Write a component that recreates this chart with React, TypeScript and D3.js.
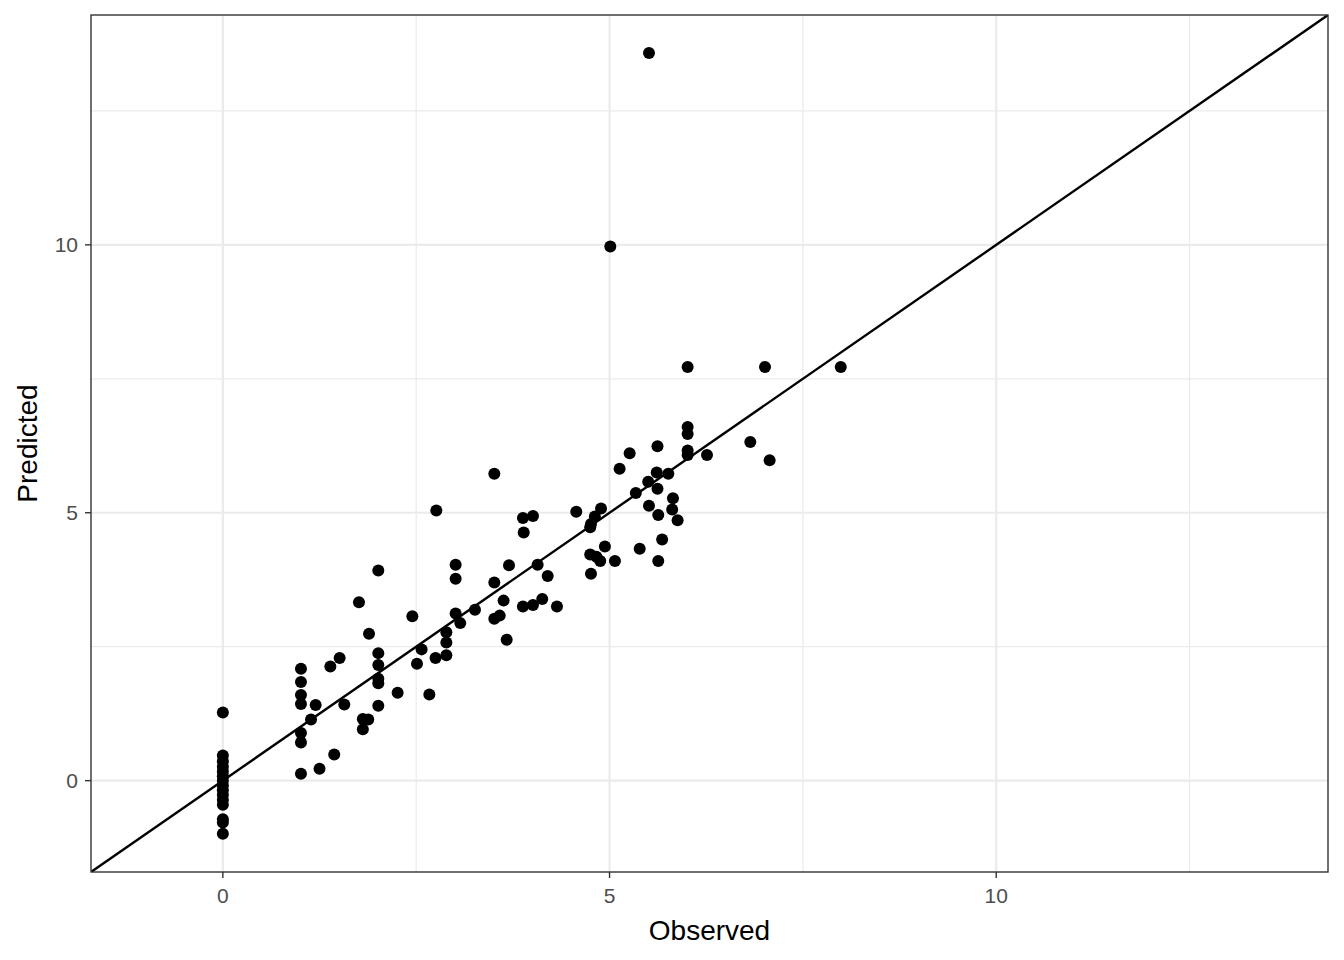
import React from "react";
import * as d3 from "d3";

const observed: number[] = [
  5.51, 5.01, 6.01, 7.01, 7.99, 6.01, 6.01, 6.82, 5.62, 5.26,
  6.01, 6.01, 6.26, 7.07, 5.13, 5.61, 5.76, 5.50, 5.62, 5.34,
  5.82, 5.51, 5.81, 4.57, 4.89, 4.81, 4.76, 4.75, 5.63, 5.88,
  4.94, 5.39, 5.68, 4.75, 4.83, 4.88, 5.07, 5.63, 4.76, 3.51,
  2.76, 3.88, 4.01, 3.89, 3.01, 3.01, 3.70, 4.07, 4.20, 3.51,
  3.63, 3.88, 4.01, 4.13, 4.32, 3.58, 3.51, 3.67, 3.26, 3.01,
  3.07, 2.89, 2.89, 2.89, 2.75, 2.57, 2.51, 2.67, 2.45, 2.26,
  2.01, 1.76, 1.89, 2.01, 2.01, 2.01, 2.01, 2.01, 1.81, 1.88,
  1.81, 1.51, 1.39, 1.57, 1.44, 1.25, 1.01, 1.01, 1.01, 1.01,
  1.20, 1.14, 1.01, 1.01, 1.01, 0, 0, 0, 0, 0,
  0, 0, 0, 0, 0, 0, 0, 0, 0, 0,
];

const predicted: number[] = [
  13.58, 9.97, 7.72, 7.72, 7.72, 6.60, 6.47, 6.32, 6.24, 6.11,
  6.16, 6.08, 6.08, 5.98, 5.82, 5.75, 5.73, 5.58, 5.45, 5.37,
  5.27, 5.13, 5.06, 5.02, 5.08, 4.93, 4.79, 4.73, 4.96, 4.86,
  4.37, 4.33, 4.50, 4.22, 4.18, 4.10, 4.10, 4.10, 3.86, 5.73,
  5.04, 4.90, 4.94, 4.63, 4.03, 3.77, 4.02, 4.03, 3.82, 3.70,
  3.36, 3.25, 3.28, 3.39, 3.25, 3.08, 3.02, 2.63, 3.19, 3.12,
  2.94, 2.77, 2.58, 2.34, 2.29, 2.45, 2.18, 1.61, 3.07, 1.64,
  3.92, 3.33, 2.74, 2.38, 2.16, 1.90, 1.82, 1.40, 1.15, 1.14,
  0.96, 2.29, 2.13, 1.42, 0.49, 0.22, 2.09, 1.84, 1.60, 1.43,
  1.41, 1.14, 0.89, 0.71, 0.13, 1.27, 0.47, 0.36, 0.26, 0.17,
  0.08, 0.0, -0.09, -0.18, -0.27, -0.36, -0.45, -0.72, -0.78, -0.99,
];

const majorTicks: number[] = [0, 5, 10];
const minorTicks: number[] = [2.5, 7.5, 12.5];
const axisDomain: [number, number] = [-1.705, 14.29];
const xTitle = "Observed";
const yTitle = "Predicted";

const W = 1344;
const H = 960;
const panel = { left: 91, right: 1328, top: 15, bottom: 872 };

export default function App() {
  const x = d3.scaleLinear().domain(axisDomain).range([panel.left, panel.right]);
  const y = d3.scaleLinear().domain(axisDomain).range([panel.bottom, panel.top]);
  const font = "'Liberation Sans', Arial, Helvetica, sans-serif";
  const points = observed.map((o, i) => ({ o, p: predicted[i] }));
  const d0 = axisDomain[0];
  const d1 = axisDomain[1];

  return (
    <svg
      width={W}
      height={H}
      style={{ position: "absolute", left: 0, top: 0, background: "#fff" }}
      fontFamily={font}
    >
      <defs>
        <clipPath id="panelClip">
          <rect x={panel.left} y={panel.top} width={panel.right - panel.left} height={panel.bottom - panel.top} />
        </clipPath>
      </defs>
      <rect x={0} y={0} width={W} height={H} fill="#fff" />
      {minorTicks.map((t) => (
        <g key={"mn" + t}>
          <line x1={x(t)} x2={x(t)} y1={panel.top} y2={panel.bottom} stroke="#EBEBEB" strokeWidth={1.2} />
          <line x1={panel.left} x2={panel.right} y1={y(t)} y2={y(t)} stroke="#EBEBEB" strokeWidth={1.2} />
        </g>
      ))}
      {majorTicks.map((t) => (
        <g key={"mj" + t}>
          <line x1={x(t)} x2={x(t)} y1={panel.top} y2={panel.bottom} stroke="#EBEBEB" strokeWidth={2.2} />
          <line x1={panel.left} x2={panel.right} y1={y(t)} y2={y(t)} stroke="#EBEBEB" strokeWidth={2.2} />
        </g>
      ))}
      <g clipPath="url(#panelClip)">
        {points.map((d, i) => (
          <circle key={i} cx={x(d.o)} cy={y(d.p)} r={6} fill="#000" />
        ))}
        <line x1={x(d0)} y1={y(d0)} x2={x(d1)} y2={y(d1)} stroke="#000" strokeWidth={2.4} />
      </g>
      <rect
        x={panel.left}
        y={panel.top}
        width={panel.right - panel.left}
        height={panel.bottom - panel.top}
        fill="none"
        stroke="#333333"
        strokeWidth={1.4}
      />
      {majorTicks.map((t) => (
        <g key={"xt" + t}>
          <line x1={x(t)} x2={x(t)} y1={panel.bottom} y2={panel.bottom + 6} stroke="#333333" strokeWidth={1.4} />
          <text x={x(t)} y={903} textAnchor="middle" fontSize={21} fill="#4D4D4D">
            {t}
          </text>
        </g>
      ))}
      {majorTicks.map((t) => (
        <g key={"yt" + t}>
          <line x1={panel.left - 6} x2={panel.left} y1={y(t)} y2={y(t)} stroke="#333333" strokeWidth={1.4} />
          <text x={78} y={y(t) + 7.5} textAnchor="end" fontSize={21} fill="#4D4D4D">
            {t}
          </text>
        </g>
      ))}
      <text x={(panel.left + panel.right) / 2} y={940} textAnchor="middle" fontSize={28} fill="#000">
        {xTitle}
      </text>
      <text
        transform={`translate(37, ${(panel.top + panel.bottom) / 2}) rotate(-90)`}
        textAnchor="middle"
        fontSize={28}
        fill="#000"
      >
        {yTitle}
      </text>
    </svg>
  );
}
